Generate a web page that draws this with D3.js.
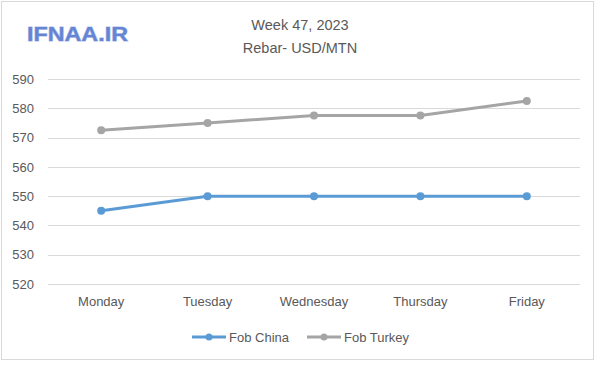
<!DOCTYPE html>
<html>
<head>
<meta charset="utf-8">
<script src="https://cdn.jsdelivr.net/npm/d3@7"></script>
<style>
  html, body { margin: 0; padding: 0; background: #ffffff; }
  svg { display: block; }
</style>
</head>
<body>
<script>
const categories = ["Monday", "Tuesday", "Wednesday", "Thursday", "Friday"];
const fobChina = [545, 550, 550, 550, 550];
const fobTurkey = [572.5, 575, 577.5, 577.5, 582.5];
const seriesNames = ["Fob China", "Fob Turkey"];
const seriesColors = ["#5b9bd5", "#a5a5a5"];
const yTicks = [520, 530, 540, 550, 560, 570, 580, 590];
const titleLines = ["Week 47, 2023", "Rebar- USD/MTN"];
const logoText = "IFNAA.IR";

const W = 600, H = 372;
const font = "'Liberation Sans', Arial, sans-serif";
const textColor = "#595959";

const svg = d3.select("body").append("svg").attr("width", W).attr("height", H);

svg.append("rect").attr("x", 0).attr("y", 0).attr("width", W).attr("height", H).attr("fill", "#ffffff");
svg.append("rect").attr("x", 1.5).attr("y", 1.5).attr("width", 592).attr("height", 358)
  .attr("fill", "#ffffff").attr("stroke", "#d9d9d9").attr("stroke-width", 1);

const x = d3.scaleBand().domain(categories).range([48, 580]);
const y = d3.scaleLinear().domain([520, 590]).range([284, 79]);

// gridlines
svg.append("g").selectAll("line").data(yTicks).join("line")
  .attr("x1", 48).attr("x2", 580)
  .attr("y1", d => Math.round(y(d)) + 0.5).attr("y2", d => Math.round(y(d)) + 0.5)
  .attr("stroke", "#d9d9d9").attr("stroke-width", 1);

// y axis labels
const yAxis = d3.axisLeft(y).tickValues(yTicks).tickSize(0).tickPadding(0);
const gy = svg.append("g").attr("transform", "translate(34,0)").call(yAxis);
gy.select(".domain").remove();
gy.selectAll("text").attr("font-family", font).attr("font-size", 13).attr("fill", textColor);

// x axis labels
const xAxis = d3.axisBottom(x).tickSize(0).tickPadding(0);
const gx = svg.append("g").attr("transform", "translate(0,297)").call(xAxis);
gx.select(".domain").remove();
gx.selectAll("text").attr("font-family", font).attr("font-size", 13).attr("fill", textColor);

// lines
const cx = d => x(d) + x.bandwidth() / 2;
const allSeries = [fobChina, fobTurkey];
allSeries.forEach((vals, i) => {
  const pts = categories.map((c, j) => [cx(c), y(vals[j])]);
  svg.append("path").datum(pts)
    .attr("d", d3.line())
    .attr("fill", "none").attr("stroke", seriesColors[i]).attr("stroke-width", 3)
    .attr("stroke-linejoin", "round").attr("stroke-linecap", "round");
  svg.append("g").selectAll("circle").data(pts).join("circle")
    .attr("cx", d => d[0]).attr("cy", d => d[1]).attr("r", 4)
    .attr("fill", seriesColors[i]);
});

// title
svg.append("g").selectAll("text").data(titleLines).join("text")
  .attr("x", 300).attr("y", (d, i) => 30 + i * 23)
  .attr("text-anchor", "middle")
  .attr("font-family", font).attr("font-size", 14.5).attr("fill", textColor)
  .text(d => d);

// logo
svg.append("text").attr("x", 27).attr("y", 41)
  .attr("font-family", font).attr("font-size", 20).attr("font-weight", "bold")
  .attr("fill", "#6585d4").attr("stroke", "#b4c4e6").attr("stroke-width", 1)
  .attr("paint-order", "stroke")
  .attr("textLength", 101).attr("lengthAdjust", "spacingAndGlyphs")
  .text(logoText);

// legend
const legendX = [192, 307];
seriesNames.forEach((name, i) => {
  const g = svg.append("g").attr("transform", `translate(${legendX[i]},337)`);
  g.append("line").attr("x1", 0).attr("x2", 34).attr("y1", 0).attr("y2", 0)
    .attr("stroke", seriesColors[i]).attr("stroke-width", 3);
  g.append("circle").attr("cx", 17).attr("cy", 0).attr("r", 3.5).attr("fill", seriesColors[i]);
  g.append("text").attr("x", 37).attr("y", 4.5)
    .attr("font-family", font).attr("font-size", 13).attr("fill", textColor)
    .text(name);
});
</script>
</body>
</html>
